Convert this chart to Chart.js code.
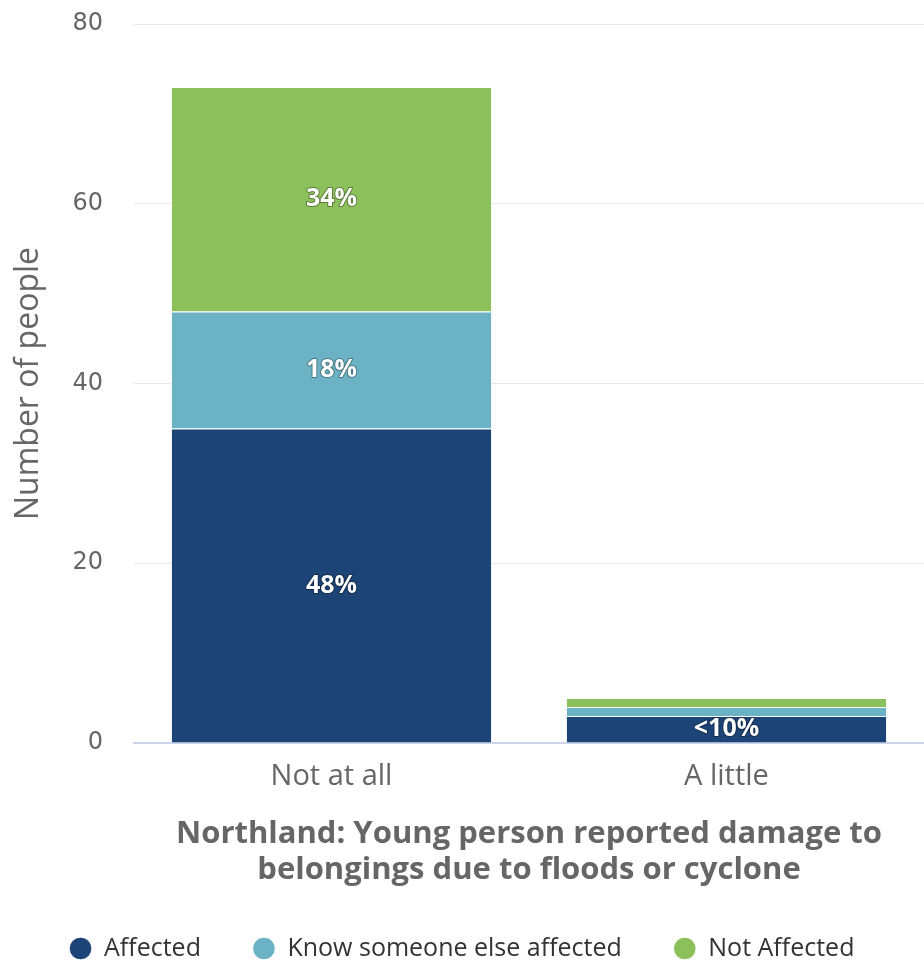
<!DOCTYPE html>
<html>
<head>
<meta charset="utf-8">
<script src="https://cdn.jsdelivr.net/npm/chart.js@4"></script>
<style>
  html, body { margin: 0; padding: 0; background: #fff; }
  #wrap { width: 924px; height: 964px; }
</style>
</head>
<body>
<div id="wrap"><canvas id="damageChart"></canvas></div>
<script>
const categories = ['Not at all', 'A little'];
const affected = [35, 3];
const knowSomeone = [13, 1];
const notAffected = [25, 1];
const affectedLabels = ['48%', '<10%'];
const knowSomeoneLabels = ['18%', ''];
const notAffectedLabels = ['34%', ''];
const yTicks = [0, 20, 40, 60, 80];

// draws the percentage text inside each bar segment
const segmentLabels = {
    id: 'segmentLabels',
    afterDatasetsDraw(chart) {
        const ctx = chart.ctx;
        ctx.save();
        ctx.font = 'bold 25px "Open Sans"';
        ctx.textAlign = 'center';
        ctx.textBaseline = 'middle';
        ctx.lineJoin = 'round';
        chart.data.datasets.forEach((ds, i) => {
            const meta = chart.getDatasetMeta(i);
            meta.data.forEach((bar, j) => {
                const txt = ds.pctLabels[j];
                if (!txt) return;
                const y = (bar.y + bar.base) / 2;
                ctx.lineWidth = 2;
                ctx.strokeStyle = 'rgba(0,0,0,0.35)';
                ctx.strokeText(txt, bar.x, y);
                ctx.fillStyle = '#ffffff';
                ctx.fillText(txt, bar.x, y);
            });
        });
        ctx.restore();
    }
};

// legend keeps wide spacing between items but a shorter box
const legendHeight = {
    id: 'legendHeight',
    beforeUpdate(chart) {
        const lg = chart.legend;
        if (lg && !lg._shortFit) {
            const fit = lg.fit;
            lg.fit = function() {
                fit.call(this);
                this.height = 80;
            };
            lg._shortFit = true;
        }
    }
};

document.addEventListener('DOMContentLoaded', function() {
    const ctx = document.getElementById('damageChart').getContext('2d');
    new Chart(ctx, {
        type: 'bar',
        data: {
            labels: categories,
            datasets: [{
                label: 'Affected',
                data: affected,
                pctLabels: affectedLabels,
                backgroundColor: '#1c4476',
                borderColor: '#ffffff',
                borderWidth: 1
            }, {
                label: 'Know someone else affected',
                data: knowSomeone,
                pctLabels: knowSomeoneLabels,
                backgroundColor: '#6bb3c4',
                borderColor: '#ffffff',
                borderWidth: 1
            }, {
                label: 'Not Affected',
                data: notAffected,
                pctLabels: notAffectedLabels,
                backgroundColor: '#8cc05b',
                borderColor: '#ffffff',
                borderWidth: 1
            }]
        },
        options: {
            responsive: true,
            maintainAspectRatio: false,
            animation: false,
            datasets: {
                bar: { barPercentage: 0.813, categoryPercentage: 1 }
            },
            layout: { padding: { top: 24, right: 0, left: 0, bottom: 0 } },
            scales: {
                x: {
                    stacked: true,
                    grid: { display: false },
                    border: { color: '#ccd6eb', width: 2 },
                    ticks: {
                        color: '#666666',
                        font: { family: 'Open Sans', size: 29 },
                        padding: 8
                    },
                    title: {
                        display: true,
                        text: ['Northland: Young person reported damage to', 'belongings due to floods or cyclone'],
                        color: '#666666',
                        font: { family: 'Open Sans', size: 31, weight: 'bold', lineHeight: 1.16 },
                        padding: { top: 0, bottom: -4 }
                    },
                    afterFit(scale) { scale.height = 141; }
                },
                y: {
                    stacked: true,
                    min: 0,
                    max: 80,
                    afterBuildTicks(scale) {
                        scale.ticks = yTicks.map(v => ({ value: v }));
                    },
                    grid: { color: '#e6e6e6', lineWidth: 1, tickLength: 25, tickColor: 'rgba(0,0,0,0)' },
                    border: { display: false },
                    ticks: {
                        color: '#666666',
                        font: { family: 'DejaVu Sans', size: 24 },
                        padding: 6
                    },
                    title: {
                        display: true,
                        text: 'Number of people',
                        color: '#666666',
                        font: { family: 'Open Sans', size: 32 },
                        padding: { top: 10, bottom: 0 }
                    },
                    afterFit(scale) { scale.width = 134; }
                }
            },
            plugins: {
                legend: {
                    position: 'bottom',
                    labels: {
                        usePointStyle: true,
                        pointStyle: 'circle',
                        boxWidth: 22,
                        boxHeight: 16,
                        padding: 52,
                        color: '#333333',
                        font: { family: 'Open Sans', size: 25 }
                    }
                },
                tooltip: { enabled: false }
            }
        },
        plugins: [segmentLabels, legendHeight]
    });
});
</script>
</body>
</html>
